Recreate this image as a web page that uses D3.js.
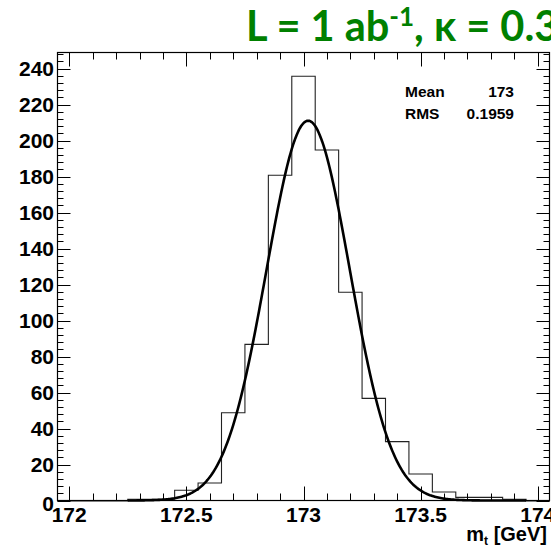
<!DOCTYPE html>
<html><head><meta charset="utf-8">
<script src="https://cdn.jsdelivr.net/npm/d3@7"></script>
<style>body{margin:0;background:#fff}svg{display:block}</style>
</head><body>
<script>
// Bin centers (GeV), bin width 0.1
const binCenters = [172.0,172.1,172.2,172.3,172.4,172.5,172.6,172.7,172.8,172.9,173.0,173.1,173.2,173.3,173.4,173.5,173.6,173.7,173.8,173.9,174.0];
const binCounts  = [0,0,0,1,1,6,10,49,87,181,236,195,116,57,33,15,5,2,2,1,0];
const xTicks = [172,172.5,173,173.5,174];
const yTicks = [0,20,40,60,80,100,120,140,160,180,200,220,240];
const fitPeak = 211, fitMean = 173.02, fitSigma = 0.178;
const fitRange = [172.25, 173.95];
const statsLabels = ["Mean","RMS"];
const statsValues = ["173","0.1959"];

const W=551,H=547;
const L=57.5,R=549.5,T=52.5,B=500.5;
const svg=d3.select("body").append("svg").attr("width",W).attr("height",H);
const x=d3.scaleLinear().domain([171.95,174.05]).range([L,R]);
const y=d3.scaleLinear().domain([0,248.9]).range([B,T]);

// histogram step path
const bw=0.1;
let pts=[];
binCenters.forEach((c,i)=>{pts.push([c-bw/2,binCounts[i]]);pts.push([c+bw/2,binCounts[i]]);});
svg.append("path").attr("d",d3.line().x(d=>x(d[0])).y(d=>y(d[1])+0.5)(pts))
  .attr("fill","none").attr("stroke","#222").attr("stroke-width",1.1);

// fit curve
const fx=d3.range(fitRange[0],fitRange[1]+0.0001,0.005);
svg.append("path").attr("d",d3.line().x(d=>x(d)).y(d=>y(fitPeak*Math.exp(-0.5*((d-fitMean)/fitSigma)**2)))(fx))
  .attr("fill","none").attr("stroke","#000").attr("stroke-width",2.6);

// frame
svg.append("rect").attr("x",L).attr("y",T).attr("width",R-L).attr("height",B-T)
  .attr("fill","none").attr("stroke","#000").attr("stroke-width",1.2);

// x ticks
const g=svg.append("g").attr("stroke","#000").attr("stroke-width",1);
d3.range(0,22).forEach(i=>{
  const v=171.95+0.05+i*0.1; if(v>174.05)return;
  const vv=Math.round(v*10)/10;
  const major=Math.abs(vv*2-Math.round(vv*2))<1e-6;
  const len=major?14:7;
  const px=Math.round(x(vv))+0.5;
  g.append("line").attr("x1",px).attr("x2",px).attr("y1",B).attr("y2",B-len);
  g.append("line").attr("x1",px).attr("x2",px).attr("y1",T).attr("y2",T+len);
});
// y ticks
d3.range(0,249,4).forEach(v=>{
  const major=v%20===0;
  const len=major?13:6;
  const py=Math.round(y(v))+0.5;
  g.append("line").attr("x1",L).attr("x2",L+len).attr("y1",py).attr("y2",py);
  g.append("line").attr("x1",R).attr("x2",R-len).attr("y1",py).attr("y2",py);
});

const font="'Liberation Sans', Arial, sans-serif";
svg.append("g").selectAll("text").data(xTicks).join("text")
  .attr("x",d=>x(d)).attr("y",522).attr("text-anchor","middle")
  .attr("font-family",font).attr("font-weight","bold").attr("font-size",21).text(d=>d);
svg.append("g").selectAll("text").data(yTicks).join("text")
  .attr("x",54).attr("y",d=>y(d)+(d===0?10:7.5)).attr("text-anchor","end")
  .attr("font-family",font).attr("font-weight","bold").attr("font-size",21).text(d=>d);

// axis title
const at=svg.append("text").attr("x",547).attr("y",541).attr("text-anchor","end")
  .attr("font-family",font).attr("font-weight","bold").attr("font-size",20);
at.append("tspan").text("m");
at.append("tspan").attr("font-size",12).attr("dy",4).text("t");
at.append("tspan").attr("dy",-4).text(" [GeV]");

// stats
statsLabels.forEach((s,i)=>{
  svg.append("text").attr("x",405).attr("y",97+i*22).attr("font-family",font).attr("font-weight","bold").attr("font-size",15.5).text(s);
  svg.append("text").attr("x",514).attr("y",97+i*22).attr("text-anchor","end").attr("font-family",font).attr("font-weight","bold").attr("font-size",15.5).text(statsValues[i]);
});

// title
const tt=svg.append("text").attr("x",246).attr("y",41).attr("fill","#008000")
  .attr("font-family","Lato, 'Open Sans', sans-serif").attr("font-weight","bold").attr("font-size",41.5);
tt.append("tspan").text("L = 1 ab");
tt.append("tspan").attr("font-size",26).attr("dy",-15).text("-1");
tt.append("tspan").attr("dy",15).text(", κ = 0.3");
</script>
</body></html>
